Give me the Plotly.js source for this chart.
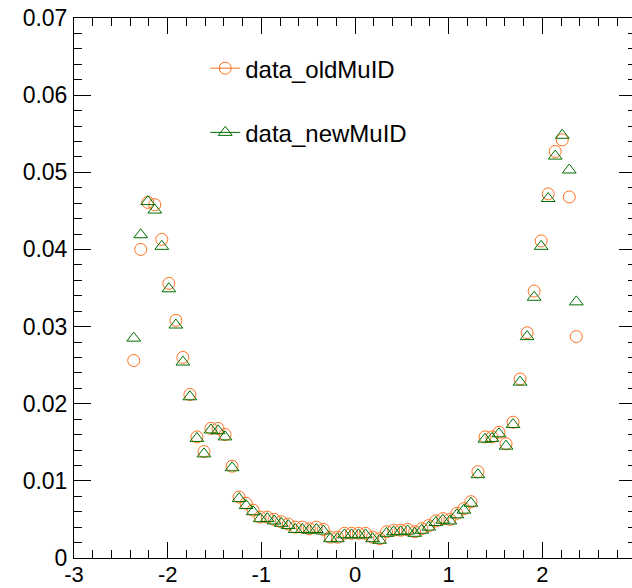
<!DOCTYPE html>
<html>
<head>
<meta charset="utf-8">
<script src="https://cdn.plot.ly/plotly-3.0.1.min.js"></script>
<style>
  html, body { margin: 0; padding: 0; overflow: hidden; background: #fff; }
  #chart { width: 640px; height: 588px; }
</style>
</head>
<body>
<div id="chart"></div>
<script>
// eta bin centres (64 bins of width 0.075 over [-2.4, 2.4])
const etaCenters = [
  -2.3625, -2.2875, -2.2125, -2.1375, -2.0625, -1.9875, -1.9125, -1.8375,
  -1.7625, -1.6875, -1.6125, -1.5375, -1.4625, -1.3875, -1.3125, -1.2375,
  -1.1625, -1.0875, -1.0125, -0.9375, -0.8625, -0.7875, -0.7125, -0.6375,
  -0.5625, -0.4875, -0.4125, -0.3375, -0.2625, -0.1875, -0.1125, -0.0375,
   0.0375,  0.1125,  0.1875,  0.2625,  0.3375,  0.4125,  0.4875,  0.5625,
   0.6375,  0.7125,  0.7875,  0.8625,  0.9375,  1.0125,  1.0875,  1.1625,
   1.2375,  1.3125,  1.3875,  1.4625,  1.5375,  1.6125,  1.6875,  1.7625,
   1.8375,  1.9125,  1.9875,  2.0625,  2.1375,  2.2125,  2.2875,  2.3625
];

const oldMuID = [
  0.0256, 0.0400, 0.0461, 0.0458, 0.0413, 0.0356, 0.0308, 0.0260,
  0.0212, 0.0157, 0.0138, 0.0168, 0.0168, 0.0160, 0.0119, 0.0079,
  0.0071, 0.0062, 0.0053, 0.0053, 0.0050, 0.0047, 0.0044, 0.0040,
  0.0040, 0.0038, 0.0040, 0.0037, 0.0027, 0.0027, 0.0032, 0.0032,
  0.0032, 0.0032, 0.0027, 0.0025, 0.0034, 0.0036, 0.0036, 0.0037,
  0.0034, 0.0038, 0.0042, 0.0048, 0.0051, 0.0050, 0.0058, 0.0064,
  0.0073, 0.0112, 0.0157, 0.0157, 0.0163, 0.0148, 0.0176, 0.0232,
  0.0292, 0.0346, 0.0411, 0.0472, 0.0527, 0.0542, 0.0468, 0.0287
];

const newMuID = [
  0.0285, 0.0419, 0.0462, 0.0451, 0.0404, 0.0349, 0.0302, 0.0254,
  0.0209, 0.0155, 0.0135, 0.0166, 0.0165, 0.0157, 0.0117, 0.0077,
  0.0068, 0.0060, 0.0051, 0.0051, 0.0048, 0.0045, 0.0042, 0.0037,
  0.0037, 0.0036, 0.0037, 0.0035, 0.0025, 0.0025, 0.0030, 0.0030,
  0.0030, 0.0030, 0.0025, 0.0023, 0.0032, 0.0034, 0.0034, 0.0035,
  0.0032, 0.0036, 0.0040, 0.0046, 0.0049, 0.0048, 0.0056, 0.0062,
  0.0071, 0.0108, 0.0154, 0.0155, 0.0161, 0.0145, 0.0173, 0.0228,
  0.0287, 0.0338, 0.0404, 0.0466, 0.0521, 0.0548, 0.0503, 0.0332
];

const seriesNames = ['data_oldMuID', 'data_newMuID'];

const xTickVals = [-3, -2, -1, 0, 1, 2, 3];
const xTickLabels = ['-3', '-2', '-1', '0', '1', '2', '3'];
const yTickVals = [0, 0.01, 0.02, 0.03, 0.04, 0.05, 0.06, 0.07];
const yTickLabels = ['0', '0.01', '0.02', '0.03', '0.04', '0.05', '0.06', '0.07'];

const ORANGE = 'rgb(255,112,30)';
const GREEN = 'rgb(0,110,0)';
const FONT = 'Liberation Sans, Arial, Helvetica, sans-serif';

const oldMarker = { symbol: 'circle-open', size: 12, color: ORANGE, line: { color: ORANGE, width: 1 } };
const newMarker = { symbol: 'triangle-up-open', size: 12, color: GREEN, line: { color: GREEN, width: 1 } };

const traces = [
  { type: 'scatter', mode: 'markers', x: etaCenters, y: oldMuID, marker: oldMarker,
    showlegend: false, hoverinfo: 'skip' },
  { type: 'scatter', mode: 'markers', x: etaCenters, y: newMuID, marker: newMarker,
    showlegend: false, hoverinfo: 'skip' },
  // legend entries: line + marker style keys
  { type: 'scatter', mode: 'lines+markers', x: [null], y: [null], name: seriesNames[0],
    legendgroup: 'old', line: { color: ORANGE, width: 1 }, marker: oldMarker },
  { type: 'scatter', mode: 'lines+markers', x: [null], y: [null], name: seriesNames[1],
    legendgroup: 'new', line: { color: GREEN, width: 1 }, marker: newMarker }
];

const axisCommon = {
  showgrid: false, zeroline: false, showline: true, linecolor: '#000', linewidth: 1,
  mirror: 'allticks', ticks: 'inside', tickcolor: '#000', tickwidth: 1,
  tickfont: { family: FONT, size: 23, color: '#000' }
};

const layout = {
  width: 640, height: 588,
  margin: { l: 74, r: 4, t: 18, b: 30, pad: 0 },
  paper_bgcolor: '#fff', plot_bgcolor: '#fff',
  font: { family: FONT, color: '#000' },
  xaxis: Object.assign({}, axisCommon, {
    range: [-3, 3], tickmode: 'array', tickvals: xTickVals, ticktext: xTickLabels,
    tickfont: { family: FONT, size: 22, color: '#000' },
    ticklen: 16, ticklabelstandoff: -3,
    minor: { tickmode: 'linear', tick0: -3, dtick: 0.2, ticks: 'inside', ticklen: 8,
             tickcolor: '#000', tickwidth: 1, showgrid: false }
  }),
  yaxis: Object.assign({}, axisCommon, {
    range: [0, 0.07], tickmode: 'array', tickvals: yTickVals, ticktext: yTickLabels,
    ticklen: 17, ticklabelstandoff: 1,
    minor: { tickmode: 'linear', tick0: 0, dtick: 0.002, ticks: 'inside', ticklen: 8,
             tickcolor: '#000', tickwidth: 1, showgrid: false }
  }),
  showlegend: true,
  legend: {
    x: 0.2335, y: 0.948, xanchor: 'left', yanchor: 'top',
    bgcolor: 'rgba(0,0,0,0)', borderwidth: 0,
    font: { family: FONT, size: 24, color: '#000' },
    traceorder: 'grouped', tracegroupgap: 30
  }
};

Plotly.newPlot('chart', traces, layout, { staticPlot: true, displayModeBar: false });
</script>
</body>
</html>
